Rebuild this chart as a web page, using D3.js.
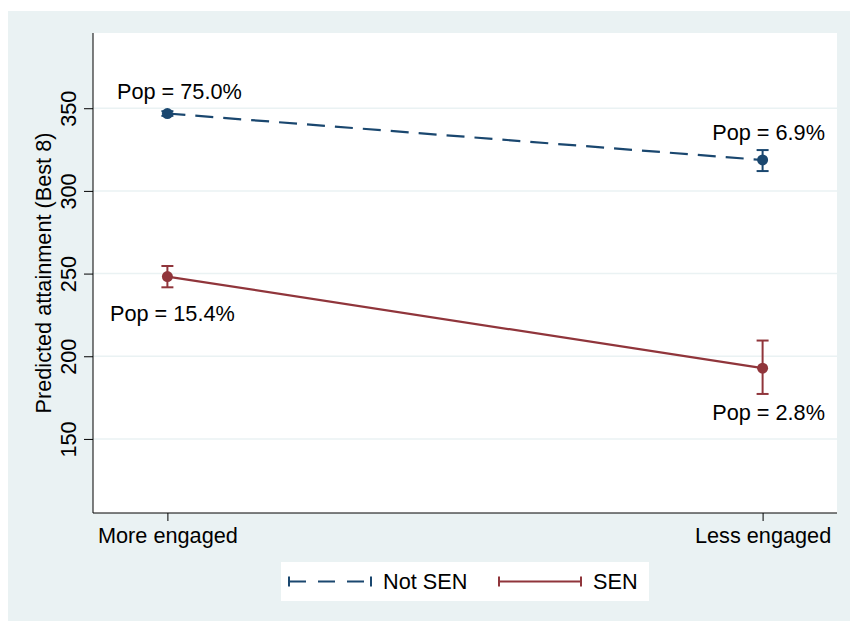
<!DOCTYPE html>
<html>
<head>
<meta charset="utf-8">
<script src="https://cdn.jsdelivr.net/npm/d3@7"></script>
<style>
  body { margin: 0; background: #fff; }
  text { font-family: "Liberation Sans", Arial, sans-serif; fill: #000; }
</style>
</head>
<body>
<svg id="chart"></svg>
<script>
// categories and values
const categories = ['More engaged', 'Less engaged'];
const yTicks = [150, 200, 250, 300, 350];
const seriesNames = ['Not SEN', 'SEN'];
const notSenMean = [346.8, 318.7];
const notSenLow = [345.4, 312.0];
const notSenHigh = [348.2, 324.7];
const senMean = [248.2, 192.8];
const senLow = [241.7, 177.2];
const senHigh = [254.6, 209.5];
const notSenPop = ['Pop = 75.0%', 'Pop = 6.9%'];
const senPop = ['Pop = 15.4%', 'Pop = 2.8%'];

const W = 850, H = 621;
const margin = {top: 33, right: 13, bottom: 108, left: 93};
const innerW = W - margin.left - margin.right;
const innerH = H - margin.top - margin.bottom;
const navy = '#1a476f', maroon = '#90353b', bg = '#eaf2f3';
const fs = 21.7;

const svg = d3.select('#chart').attr('width', W).attr('height', H);

svg.append('rect').attr('x', 8).attr('y', 11).attr('width', W - 8).attr('height', H - 11).attr('fill', bg);
svg.append('rect').attr('x', margin.left).attr('y', margin.top)
    .attr('width', innerW).attr('height', innerH).attr('fill', '#fff');

const chart = svg.append('g').attr('transform', `translate(${margin.left},${margin.top})`);

const xscale = d3.scalePoint().domain(categories).range([0, innerW]).padding(0.125);
const yscale = d3.scaleLinear().domain([105.2, 395.5]).range([innerH, 0]);

// grid
chart.selectAll('.grid').data(yTicks).enter().append('line')
    .attr('x1', 0).attr('x2', innerW)
    .attr('y1', d => yscale(d)).attr('y2', d => yscale(d))
    .attr('stroke', bg).attr('stroke-width', 1.5);

// axes
const yaxis = d3.axisLeft(yscale).tickValues(yTicks).tickSize(9).tickPadding(8).tickSizeOuter(0);
const yg = chart.append('g').call(yaxis);
yg.select('.domain').attr('stroke', '#000').attr('d', `M0,0V${innerH}`);
yg.selectAll('.tick line').attr('stroke', '#000');
yg.selectAll('.tick text')
    .attr('font-size', fs).attr('text-anchor', 'middle')
    .attr('transform', 'rotate(-90)').attr('x', 0).attr('y', -17).attr('dy', 0);

const xaxis = d3.axisBottom(xscale).tickSize(8).tickSizeOuter(0);
const xg = chart.append('g').attr('transform', `translate(0,${innerH})`).call(xaxis);
xg.select('.domain').attr('stroke', '#000').attr('d', `M0,0H${innerW}`);
xg.selectAll('.tick line').attr('stroke', '#000');
xg.selectAll('.tick text').attr('font-size', fs).attr('y', 15).attr('dy', '0.71em');

svg.append('text')
    .attr('transform', `translate(51,${margin.top + innerH / 2}) rotate(-90)`)
    .attr('text-anchor', 'middle').attr('font-size', fs)
    .text('Predicted attainment (Best 8)');

function drawSeries(mean, low, high, color, dash, labels, labelPos) {
    const pts = categories.map((c, i) => ({c, m: mean[i], lo: low[i], hi: high[i], lab: labels[i]}));
    chart.append('path').datum(pts)
        .attr('fill', 'none').attr('stroke', color).attr('stroke-width', 2.2)
        .attr('stroke-dasharray', dash)
        .attr('d', d3.line().x(d => xscale(d.c)).y(d => yscale(d.m)));
    const g = chart.append('g').selectAll('g').data(pts).enter().append('g');
    g.append('line').attr('x1', d => xscale(d.c)).attr('x2', d => xscale(d.c))
        .attr('y1', d => yscale(d.lo)).attr('y2', d => yscale(d.hi))
        .attr('stroke', color).attr('stroke-width', 2);
    ['lo', 'hi'].forEach(k => {
        g.append('line').attr('x1', d => xscale(d.c) - 6).attr('x2', d => xscale(d.c) + 6)
            .attr('y1', d => yscale(d[k])).attr('y2', d => yscale(d[k]))
            .attr('stroke', color).attr('stroke-width', 2);
    });
    g.append('circle').attr('cx', d => xscale(d.c)).attr('cy', d => yscale(d.m))
        .attr('r', 5.5).attr('fill', color);
    g.append('text').attr('font-size', fs)
        .attr('x', (d, i) => xscale(d.c) + labelPos[i][0])
        .attr('y', (d, i) => yscale(d.m) + labelPos[i][1])
        .attr('text-anchor', 'middle')
        .text(d => d.lab);
}

drawSeries(notSenMean, notSenLow, notSenHigh, navy, '18,10', notSenPop, [[12, -15], [6, -20]]);
drawSeries(senMean, senLow, senHigh, maroon, null, senPop, [[5, 44], [6, 52]]);

// legend
const legend = svg.append('g');
legend.append('rect').attr('x', 281).attr('y', 562).attr('width', 368).attr('height', 39).attr('fill', '#fff');
const legendItems = [
    {name: seriesNames[0], color: navy, dash: '17,12', x0: 289},
    {name: seriesNames[1], color: maroon, dash: null, x0: 499}
];
legendItems.forEach(it => {
    const y = 581.5, x1 = it.x0 + 82;
    legend.append('line').attr('x1', it.x0).attr('x2', x1).attr('y1', y).attr('y2', y)
        .attr('stroke', it.color).attr('stroke-width', 2).attr('stroke-dasharray', it.dash);
    [it.x0, x1].forEach(x => legend.append('line').attr('x1', x).attr('x2', x)
        .attr('y1', y - 5).attr('y2', y + 5).attr('stroke', it.color).attr('stroke-width', 2));
    legend.append('text').attr('x', x1 + 12).attr('y', y).attr('dy', '0.35em')
        .attr('font-size', fs).text(it.name);
});
</script>
</body>
</html>
